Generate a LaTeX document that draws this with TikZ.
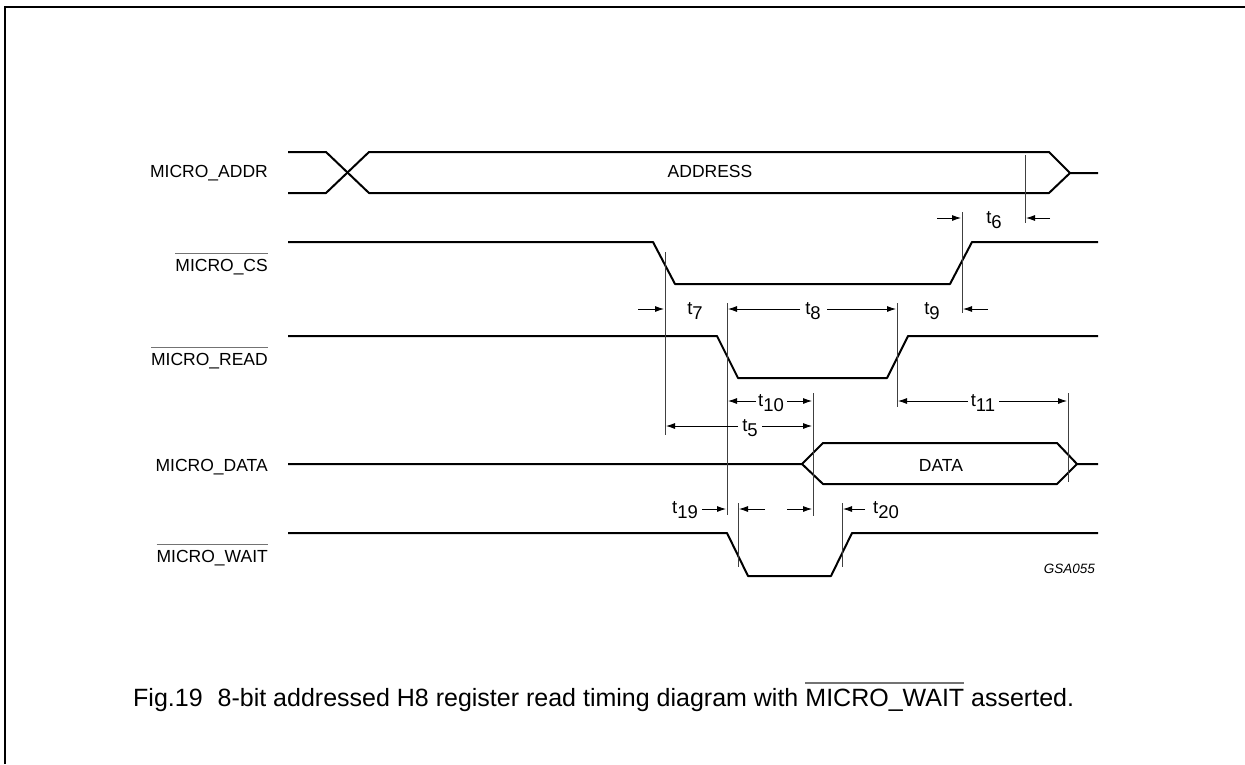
\documentclass[tikz,border=0pt]{standalone}
\usepackage{fontspec}
\setmainfont{Liberation Sans}
\usetikzlibrary{arrows.meta}
\newcommand\ovl[1]{\leavevmode\vbox{{\color{black!55}\hrule height 1.2pt}\kern 5pt\hbox{#1}}}
\newcommand\tsub[1]{t\raisebox{-5.5pt}{#1}}
\begin{document}
\begin{tikzpicture}[x=1pt,y=-1pt,
  sig/.style={line width=2pt, line join=round},
  refl/.style={line width=0.9pt, black!75},
  dim/.style={line width=0.8pt, -{Latex[length=9pt,width=6pt]}},
  lbl/.style={font=\fontsize{17.5}{20}\selectfont, inner sep=0pt},
  sname/.style={lbl, anchor=base east},
  tlab/.style={font=\fontsize{18.5}{21}\selectfont, inner sep=0pt, anchor=base}]
\useasboundingbox (0,0) rectangle (1245,764);
% frame
\draw[line width=2pt] (5,764) -- (5,7) -- (1245,7);
% signal names
\node[sname] (addr) at (268,177) {MICRO\_ADDR};
\node[sname] (cs) at (268,271) {\ovl{MICRO\_CS}};
\node[sname] (rd) at (268,365) {\ovl{MICRO\_READ}};
\node[sname] (dt) at (268,471) {MICRO\_DATA};
\node[sname] (wt) at (268,562) {\ovl{MICRO\_WAIT}};
% waveforms
\draw[sig] (288,152)--(326,152)--(369,193)--(1049,193)--(1070,173)--(1098,173);
\draw[sig] (288,193)--(326,193)--(369,152)--(1049,152)--(1070,173);
\node[lbl, anchor=base] (address) at (710,177) {ADDRESS};
\draw[sig] (288,242)--(653,242)--(675,284)--(950,284)--(972,242)--(1098,242);
\draw[sig] (288,336)--(717,336)--(738,378)--(887,378)--(908,336)--(1098,336);
\draw[sig] (288,464)--(802,464)--(823,443)--(1057,443)--(1077,464)--(1098,464);
\draw[sig] (802,464)--(823,484)--(1057,484)--(1077,464);
\node[lbl, anchor=base] (data) at (941,471) {DATA};
\draw[sig] (288,533)--(727,533)--(748,576)--(831,576)--(852,533)--(1098,533);
% reference lines
\draw[refl] (1025,155)--(1025,223);
\draw[refl] (665,252)--(665,435);
\draw[refl] (962,212)--(962,313);
\draw[refl] (727,303)--(727,515);
\draw[refl] (897,303)--(897,407);
\draw[refl] (813,393)--(813,516);
\draw[refl] (1068,393)--(1068,482);
\draw[refl] (738,503)--(738,567);
\draw[refl] (842,503)--(842,567);
% t6
\draw[dim] (1050,218)--(1026,218);
\draw[dim] (937,218)--(961,218);
\node[tlab] (t6) at (994,223) {\tsub{6}};
% t7, t8, t9
\draw[dim] (638,309)--(664,309);
\node[tlab] (t7) at (695,314) {\tsub{7}};
\draw[dim] (800,309)--(728,309);
\draw[dim] (827,309)--(896,309);
\node[tlab] (t8) at (813,314) {\tsub{8}};
\node[tlab] (t9) at (932,314) {\tsub{9}};
\draw[dim] (988,309)--(963,309);
% t10, t11
\draw[dim] (756,401)--(728,401);
\draw[dim] (787,401)--(812,401);
\node[tlab] (t10) at (771,406) {\tsub{10}};
\draw[dim] (968,401)--(898,401);
\draw[dim] (999,401)--(1067,401);
\node[tlab] (t11) at (983,406) {\tsub{11}};
% t5
\draw[dim] (738,426)--(666,426);
\draw[dim] (762,426)--(812,426);
\node[tlab] (t5) at (750,431) {\tsub{5}};
% t19, t20
\node[tlab] (t19) at (685,513) {\tsub{19}};
\draw[dim] (702,509)--(726,509);
\draw[dim] (765,509)--(739,509);
\draw[dim] (787,509)--(812,509);
\draw[dim] (865,509)--(843,509);
\node[tlab] (t20) at (886,513) {\tsub{20}};
% id
\node[font=\fontsize{13.5}{16}\selectfont\itshape, anchor=base east, inner sep=0pt] (gsa) at (1095,573) {GSA055};
% caption
\node[font=\fontsize{25}{28}\selectfont, anchor=base west, inner sep=0pt] (cap) at (133,706) {Fig.19\hspace{0.6em}8-bit addressed H8 register read timing diagram with \ovl{MICRO\_WAIT} asserted.};
\end{tikzpicture}
\end{document}
